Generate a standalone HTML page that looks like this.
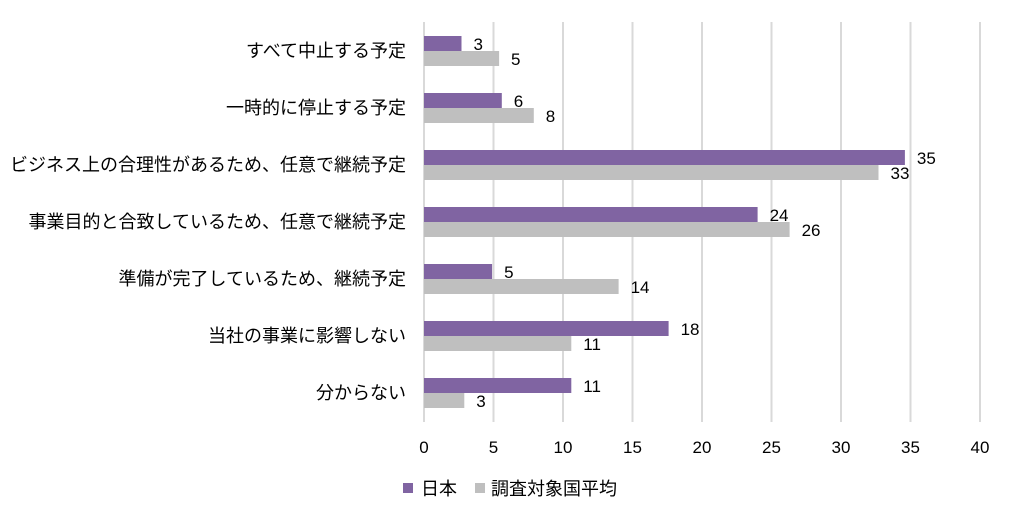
<!DOCTYPE html><html><head><meta charset="utf-8"><style>body{margin:0;background:#fff}</style></head><body>
<svg width="1016" height="518" xmlns="http://www.w3.org/2000/svg" font-family="Liberation Sans, Noto Sans CJK JP, sans-serif" font-size="17" fill="#000">
<g stroke="#d9d9d9" stroke-width="2">
<line x1="424" y1="22" x2="424" y2="422"/><line x1="493.5" y1="22" x2="493.5" y2="422"/><line x1="563" y1="22" x2="563" y2="422"/><line x1="632.5" y1="22" x2="632.5" y2="422"/><line x1="702" y1="22" x2="702" y2="422"/><line x1="771.5" y1="22" x2="771.5" y2="422"/><line x1="841" y1="22" x2="841" y2="422"/><line x1="910.5" y1="22" x2="910.5" y2="422"/><line x1="980" y1="22" x2="980" y2="422"/>
</g>
<g fill="#8064a2">
<rect x="424" y="36" width="37.5" height="15"/>
<rect x="424" y="93" width="77.8" height="15"/>
<rect x="424" y="150" width="480.9" height="15"/>
<rect x="424" y="207" width="333.6" height="15"/>
<rect x="424" y="264" width="68.1" height="15"/>
<rect x="424" y="321" width="244.6" height="15"/>
<rect x="424" y="378" width="147.3" height="15"/>
</g>
<g fill="#bfbfbf">
<rect x="424" y="51" width="75.1" height="15"/>
<rect x="424" y="108" width="109.8" height="15"/>
<rect x="424" y="165" width="454.5" height="15"/>
<rect x="424" y="222" width="365.6" height="15"/>
<rect x="424" y="279" width="194.6" height="15"/>
<rect x="424" y="336" width="147.3" height="15"/>
<rect x="424" y="393" width="40.3" height="15"/>
</g>
<g>
<text x="473.5" y="50">3</text><text x="511" y="65">5</text>
<text x="513.8" y="107">6</text><text x="545.8" y="122">8</text>
<text x="916.9" y="164">35</text><text x="890.5" y="179">33</text>
<text x="769.6" y="221">24</text><text x="801.6" y="236">26</text>
<text x="504.1" y="278">5</text><text x="630.6" y="293">14</text>
<text x="680.6" y="335">18</text><text x="583.3" y="350">11</text>
<text x="583.3" y="392">11</text><text x="476.3" y="407">3</text>
</g>
<g text-anchor="end" font-size="18">
<text x="406" y="57">すべて中止する予定</text>
<text x="406" y="114">一時的に停止する予定</text>
<text x="406" y="171">ビジネス上の合理性があるため、任意で継続予定</text>
<text x="406" y="228">事業目的と合致しているため、任意で継続予定</text>
<text x="406" y="285">準備が完了しているため、継続予定</text>
<text x="406" y="342">当社の事業に影響しない</text>
<text x="406" y="399">分からない</text>
</g>
<g text-anchor="middle"><text x="424" y="453">0</text><text x="493.5" y="453">5</text><text x="563" y="453">10</text><text x="632.5" y="453">15</text><text x="702" y="453">20</text><text x="771.5" y="453">25</text><text x="841" y="453">30</text><text x="910.5" y="453">35</text><text x="980" y="453">40</text></g>
<g font-size="18">
<rect x="403" y="483" width="10" height="10" fill="#8064a2"/><text x="421" y="495">日本</text>
<rect x="475" y="483" width="10" height="10" fill="#bfbfbf"/><text x="491" y="495">調査対象国平均</text>
</g>
</svg></body></html>
